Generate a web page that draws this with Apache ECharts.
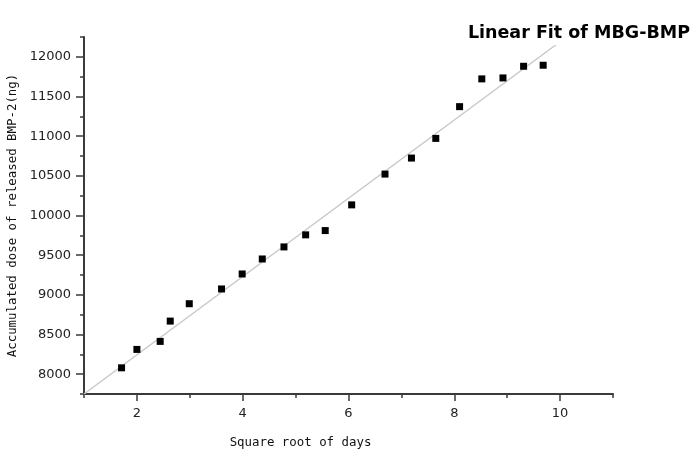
<!DOCTYPE html>
<html>
<head>
<meta charset="utf-8">
<script src="https://cdn.jsdelivr.net/npm/echarts@6/dist/echarts.min.js"></script>
<style>
  html, body { margin: 0; padding: 0; background: #fff; }
  #chart { width: 700px; height: 456px; }
</style>
</head>
<body>
<div id="chart"></div>
<script>
// square root of days
const sqrtDays = [1.71, 2.00, 2.44, 2.63, 2.99, 3.60, 3.99, 4.37, 4.78, 5.19,
  5.56, 6.06, 6.69, 7.19, 7.65, 8.10, 8.52, 8.92, 9.31, 9.68]
// accumulated BMP-2 (ng)
const doseValues = [8080, 8312, 8413, 8669, 8888, 9074, 9263, 9452, 9604, 9756,
  9810, 10134, 10522, 10724, 10972, 11372, 11722, 11734, 11881, 11894]
// fitted line end points
const fitX = [1, 10.12]
const fitY = [7750, 12250]

const xMajorTicks = [2, 4, 6, 8, 10]
const xMinorTicks = [1, 3, 5, 7, 9, 11]
const yMajorTicks = [8000, 8500, 9000, 9500, 10000, 10500, 11000, 11500, 12000]
const yMinorTicks = [7750, 8250, 8750, 9250, 9750, 10250, 10750, 11250, 11750, 12250]

const axisColor = '#3a3a3a'
const monoFont = 'DejaVu Sans Mono'

const chart = echarts.init(document.getElementById('chart'))

const baseX = {
  type: 'value',
  position: 'bottom',
  min: 1,
  max: 11,
  interval: 1,
  splitLine: { show: false }
}
const baseY = {
  type: 'value',
  position: 'left',
  min: 7750,
  max: 12250,
  interval: 250,
  splitLine: { show: false }
}

chart.setOption({
  animation: false,
  title: {
    text: 'Linear Fit of MBG-BMP',
    right: 6,
    top: 20,
    padding: [4, 4, 3, 4],
    backgroundColor: '#fff',
    textStyle: {
      fontFamily: 'DejaVu Sans',
      fontWeight: 'bold',
      fontSize: 17.5,
      color: '#000'
    }
  },
  grid: { left: 84, right: 87, top: 37, bottom: 62, outerBoundsMode: 'none', containLabel: false },
  xAxis: [
    {
      ...baseX,
      name: 'Square root of days',
      nameLocation: 'middle',
      nameGap: 43,
      nameTextStyle: {
        fontFamily: monoFont,
        fontSize: 12.4,
        color: '#111',
        padding: [0, 96, 0, 0]
      },
      axisLine: { lineStyle: { color: axisColor, width: 2 } },
      axisTick: { customValues: xMajorTicks, length: 7, lineStyle: { color: axisColor, width: 1.5 } },
      axisLabel: {
        customValues: xMajorTicks,
        margin: 13,
        fontFamily: 'DejaVu Sans',
        fontSize: 13,
        color: '#222',
        formatter: v => String(v)
      }
    },
    {
      ...baseX,
      axisLine: { show: false },
      axisLabel: { show: false },
      axisTick: { customValues: xMinorTicks, length: 4, lineStyle: { color: axisColor, width: 1.5 } }
    }
  ],
  yAxis: [
    {
      ...baseY,
      name: 'Accumulated dose of released BMP-2(ng)',
      nameLocation: 'middle',
      nameGap: 65,
      nameTextStyle: {
        fontFamily: monoFont,
        fontSize: 12.4,
        color: '#111'
      },
      axisLine: { lineStyle: { color: axisColor, width: 2 } },
      axisTick: { customValues: yMajorTicks, length: 8, lineStyle: { color: axisColor, width: 1.5 } },
      axisLabel: {
        customValues: yMajorTicks,
        margin: 13,
        fontFamily: 'DejaVu Sans',
        fontSize: 13,
        color: '#222',
        formatter: v => String(v)
      }
    },
    {
      ...baseY,
      axisLine: { show: false },
      axisLabel: { show: false },
      axisTick: { customValues: yMinorTicks, length: 4, lineStyle: { color: axisColor, width: 1.5 } }
    }
  ],
  series: [
    {
      name: 'Linear Fit',
      type: 'line',
      data: fitX.map((x, i) => [x, fitY[i]]),
      symbol: 'none',
      lineStyle: { color: '#c8c8c8', width: 1.5 },
      z: 1
    },
    {
      name: 'MBG-BMP',
      type: 'scatter',
      data: sqrtDays.map((x, i) => [x, doseValues[i]]),
      symbol: 'rect',
      symbolSize: 7,
      itemStyle: { color: '#000', opacity: 1 },
      z: 3
    }
  ]
})

window.addEventListener('resize', () => chart.resize())
</script>
</body>
</html>
